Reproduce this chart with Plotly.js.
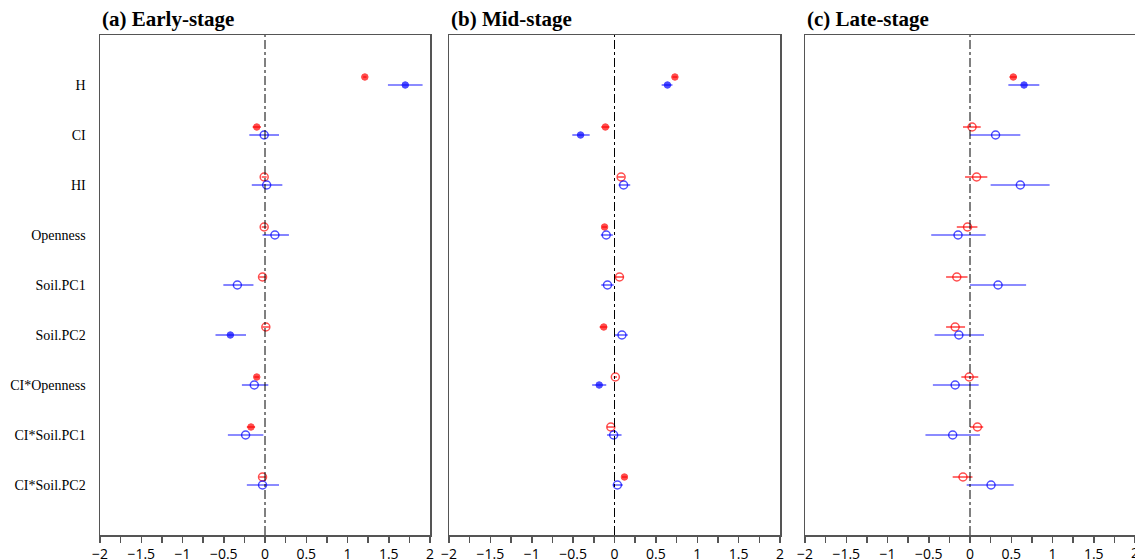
<!DOCTYPE html>
<html>
<head>
<meta charset="utf-8">
<script src="https://cdn.plot.ly/plotly-3.0.1.min.js"></script>
<style>html,body{margin:0;padding:0;background:#fff}#plot{width:1135px;height:559px}</style>
</head>
<body>
<div id="plot"></div>
<script>
const variables = ["H","CI","HI","Openness","Soil.PC1","Soil.PC2","CI*Openness","CI*Soil.PC1","CI*Soil.PC2"];
const panelTitles = ["(a) Early-stage","(b) Mid-stage","(c) Late-stage"];

// Early-stage
const earlyRedEst = [1.21, -0.10, -0.01, -0.01, -0.03, 0.01, -0.10, -0.17, -0.03];
const earlyRedLo  = [1.19, -0.15, -0.04, -0.04, -0.07, -0.03, -0.13, -0.22, -0.07];
const earlyRedHi  = [1.23, -0.05, 0.02, 0.02, 0.01, 0.05, -0.07, -0.12, 0.01];
const earlyRedSig = [1,1,0,0,0,0,1,1,0];
const earlyBlueEst = [1.70, -0.01, 0.02, 0.12, -0.335, -0.42, -0.13, -0.235, -0.03];
const earlyBlueLo  = [1.49, -0.19, -0.16, -0.03, -0.505, -0.60, -0.28, -0.45, -0.22];
const earlyBlueHi  = [1.91, 0.17, 0.21, 0.29, -0.14, -0.23, 0.04, -0.02, 0.17];
const earlyBlueSig = [1,0,0,0,0,1,0,0,0];

// Mid-stage
const midRedEst = [0.73, -0.11, 0.08, -0.12, 0.06, -0.13, 0.01, -0.045, 0.12];
const midRedLo  = [0.70, -0.16, 0.04, -0.15, 0.00, -0.18, -0.01, -0.09, 0.09];
const midRedHi  = [0.76, -0.06, 0.12, -0.09, 0.11, -0.09, 0.03, 0.00, 0.15];
const midRedSig = [1,1,0,1,0,1,0,0,1];
const midBlueEst = [0.64, -0.41, 0.11, -0.10, -0.085, 0.09, -0.185, -0.01, 0.035];
const midBlueLo  = [0.57, -0.51, 0.05, -0.165, -0.16, 0.00, -0.27, -0.09, -0.02];
const midBlueHi  = [0.70, -0.30, 0.19, -0.02, -0.01, 0.16, -0.10, 0.085, 0.10];
const midBlueSig = [1,1,0,0,0,0,1,0,0];

// Late-stage
const lateRedEst = [0.525, 0.025, 0.08, -0.03, -0.16, -0.18, -0.01, 0.09, -0.085];
const lateRedLo  = [0.48, -0.085, -0.06, -0.16, -0.29, -0.29, -0.105, 0.00, -0.21];
const lateRedHi  = [0.565, 0.13, 0.21, 0.09, -0.03, -0.06, 0.10, 0.16, 0.03];
const lateRedSig = [1,0,0,0,0,0,0,0,0];
const lateBlueEst = [0.655, 0.31, 0.61, -0.145, 0.34, -0.135, -0.18, -0.21, 0.255];
const lateBlueLo  = [0.465, 0.00, 0.25, -0.47, 0.00, -0.43, -0.45, -0.54, -0.04];
const lateBlueHi  = [0.84, 0.61, 0.965, 0.19, 0.68, 0.17, 0.105, 0.12, 0.53];
const lateBlueSig = [1,0,0,0,0,0,0,0,0];

const xTickVals = [-2,-1.5,-1,-0.5,0,0.5,1,1.5,2];

const panels = [
  {red:[earlyRedEst,earlyRedLo,earlyRedHi,earlyRedSig], blue:[earlyBlueEst,earlyBlueLo,earlyBlueHi,earlyBlueSig]},
  {red:[midRedEst,midRedLo,midRedHi,midRedSig], blue:[midBlueEst,midBlueLo,midBlueHi,midBlueSig]},
  {red:[lateRedEst,lateRedLo,lateRedHi,lateRedSig], blue:[lateBlueEst,lateBlueLo,lateBlueHi,lateBlueSig]}
];

const W = 1135;
const domains = [[100/W, 430/W],[449/W, 780/W],[805/W, 1135/W]];
const n = variables.length;
const basePos = variables.map((v,i)=> n - i);
const redOffset = 0.16;

const traces = [];
panels.forEach((p, k) => {
  const xa = k === 0 ? 'x' : 'x' + (k+1);
  const ya = k === 0 ? 'y' : 'y' + (k+1);
  [['red', p.red, '#ff0000', 'rgba(255,30,30,0.8)', redOffset],
   ['blue', p.blue, '#0000ff', 'rgba(50,50,255,0.75)', 0]].forEach(([nm, d, col, ecol, off]) => {
    const [est, lo, hi, sig] = d;
    traces.push({
      type: 'scatter', mode: 'markers', xaxis: xa, yaxis: ya,
      x: est, y: basePos.map(v => v + off),
      error_x: {type:'data', symmetric:false,
        array: hi.map((h,i)=> h - est[i]),
        arrayminus: est.map((e,i)=> e - lo[i]),
        color: ecol, thickness: 1.6, width: 0},
      marker: {color: col, size: sig.map(s => s ? 6.5 : 8),
        symbol: sig.map(s => s ? 'circle' : 'circle-open'),
        line: {color: col, width: sig.map(s => s ? 1 : 1.5)}},
      showlegend: false, hoverinfo: 'skip'
    });
  });
});

const layout = {
  width: 1135, height: 559,
  margin: {l:0, r:0, t:35, b:24},
  paper_bgcolor: '#fff', plot_bgcolor: '#fff',
  showlegend: false,
  annotations: [], shapes: []
};
const tickFont = {family: '"Open Sans", "DejaVu Sans", sans-serif', size: 14, color: '#000'};
panels.forEach((p, k) => {
  const sx = k === 0 ? '' : String(k+1);
  const last = k === panels.length - 1;
  const tv = last ? xTickVals.slice(0, -1) : xTickVals;
  layout['xaxis' + sx] = {
    domain: domains[k], range: [-2, 2], anchor: 'y' + sx,
    tickvals: tv, ticktext: tv.map(v => String(v).replace('-', '\u2212')),
    ticks: 'outside', ticklen: 6, tickwidth: 1.5, tickcolor: '#555',
    minor: {dtick: 0.25, tick0: 0, ticks: 'outside', ticklen: 6, tickwidth: 1.5, tickcolor: '#555', showgrid:false},
    showgrid: false, zeroline: false, showline: true, linecolor: '#555', linewidth: 1.5, mirror: true,
    tickfont: tickFont, fixedrange: true
  };
  if (last) {
    // edge tick label that runs past the page border (drawn through the axis scale)
    layout.annotations.push({text: String(xTickVals[xTickVals.length-1]), xref: 'x' + sx, yref: 'paper',
      x: xTickVals[xTickVals.length-1], y: 0, xanchor: 'center', yanchor: 'top', yshift: -6,
      showarrow: false, font: tickFont});
  }
  layout['yaxis' + sx] = {
    domain: [0, 1], range: [0, 10], anchor: 'x' + sx,
    showgrid: false, zeroline: false, showline: true, linecolor: '#555', linewidth: 1.5, mirror: true,
    tickvals: k === 0 ? basePos : [], ticktext: k === 0 ? variables : [],
    showticklabels: k === 0, ticks: '', ticklabelstandoff: 10,
    tickfont: {family: '"Liberation Serif", "Times New Roman", serif', size: 14, color: '#000'},
    fixedrange: true
  };
  layout.shapes.push({type:'line', xref: 'x' + sx, yref: 'y' + sx + ' domain', x0: 0, x1: 0, y0: 0, y1: 1,
    line: {color: '#000', width: 1, dash: 'dashdot'}});
  layout.annotations.push({text: '<b>' + panelTitles[k] + '</b>', xref: 'paper', yref: 'paper',
    x: domains[k][0], y: 1, xanchor: 'left', yanchor: 'bottom', yshift: 2, showarrow: false,
    font: {family: '"Liberation Serif", "Times New Roman", serif', size: 21, color: '#000'}});
});

Plotly.newPlot('plot', traces, layout, {staticPlot: true, displayModeBar: false});
</script>
</body>
</html>
